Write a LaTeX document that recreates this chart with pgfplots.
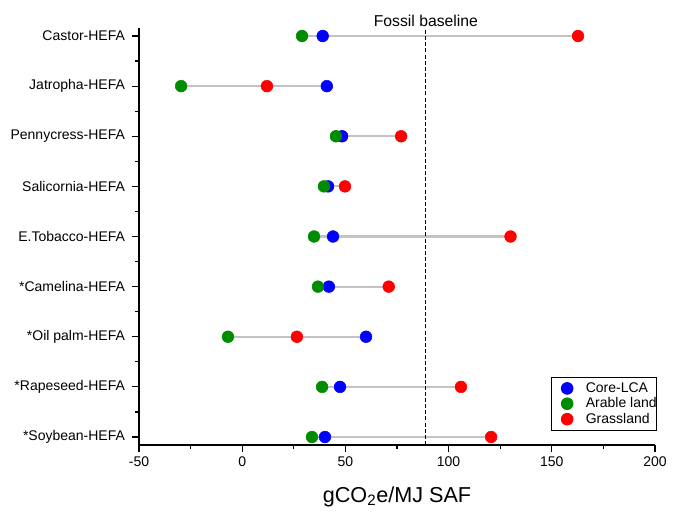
\documentclass[border=0pt]{standalone}
\usepackage{pgfplots}
\pgfplotsset{compat=1.18}
\usepackage{fontspec}
\setmainfont{Liberation Sans}
\definecolor{coreblue}{RGB}{0,0,255}
\definecolor{arablegreen}{RGB}{0,140,0}
\definecolor{grassred}{RGB}{255,0,0}
\definecolor{linkgray}{RGB}{195,195,195}
\begin{document}
\begin{tikzpicture}
  % picture frame: 673 x 512 px at 0.75pt per px, axis box lower left at (0,0)
  \path[use as bounding box] (-104.25pt,-50.25pt) rectangle (400.5pt,333.75pt);
  \begin{axis}[
      scale only axis,
      width=387pt, height=312.75pt,
      xmin=-50, xmax=200,
      ymin=-0.16, ymax=8.16,
      axis x line=bottom, axis y line=left,
      axis line style={-, line width=0.9pt},
      xtick={-50,0,50,100,150,200},
      minor x tick num=1,
      ytick={0,1,2,3,4,5,6,7,8},
      yticklabels={*Soybean-HEFA,*Rapeseed-HEFA,*Oil palm-HEFA,*Camelina-HEFA,E.Tobacco-HEFA,Salicornia-HEFA,Pennycress-HEFA,Jatropha-HEFA,Castor-HEFA},
      minor y tick num=1,
      tick align=outside,
      major tick length=5.5pt, minor tick length=3pt,
      every tick/.style={black, line width=0.9pt},
      /pgf/number format/assume math mode=true,
      tick label style={font=\fontsize{10.5}{12}\selectfont},
      yticklabel style={xshift=-1.5pt},
      xlabel={gCO\textsubscript{2}e/MJ SAF},
      xlabel style={font=\fontsize{16.2}{19}\selectfont, yshift=-8pt},
      clip=false,
      legend style={at={(1.004,0.0336)}, anchor=south east, draw=black, line width=0.6pt,
        font=\fontsize{10.5}{12}\selectfont, row sep=-1.5pt,
        inner xsep=0pt, inner ysep=2pt,
        nodes={inner xsep=0pt}},
      legend cell align=left,
      legend image code/.code={%
        \path[draw=none, fill=none] (0pt,0pt) -- (26pt,0pt);
        \path[#1, draw=none] plot coordinates {(12pt,0pt)};},
    ]
    % grey links between the lowest and highest value of each feedstock
    \addplot[linkgray, line width=1.6pt, forget plot] coordinates {(29,8) (162.7,8)};
    \addplot[linkgray, line width=1.6pt, forget plot] coordinates {(-29.6,7) (41,7)};
    \addplot[linkgray, line width=1.6pt, forget plot] coordinates {(45.4,6) (77,6)};
    \addplot[linkgray, line width=1.6pt, forget plot] coordinates {(39.6,5) (49.8,5)};
    \addplot[linkgray, line width=1.6pt, forget plot] coordinates {(34.8,4) (130,4)};
    \addplot[linkgray, line width=1.6pt, forget plot] coordinates {(36.7,3) (71,3)};
    \addplot[linkgray, line width=1.6pt, forget plot] coordinates {(-6.9,2) (60,2)};
    \addplot[linkgray, line width=1.6pt, forget plot] coordinates {(38.7,1) (106,1)};
    \addplot[linkgray, line width=1.6pt, forget plot] coordinates {(33.8,0) (120.6,0)};
    % fossil baseline
    \addplot[black, line width=0.8pt, dash pattern=on 3pt off 1.6pt, forget plot]
      coordinates {(89,-0.16) (89,8.16)};
    \node[anchor=south, font=\fontsize{11.8}{14}\selectfont, inner sep=1pt]
      at (axis cs:89,8.16) {Fossil baseline};
    % Core-LCA
    \addplot[only marks, mark=*, mark size=4.4pt, color=coreblue,
      mark options={draw=coreblue, fill=coreblue}] coordinates {
      (39,8) (41,7) (48.4,6) (41.6,5) (44,4) (42,3) (60,2) (47.4,1) (40.1,0)};
    \addlegendentry{Core-LCA}
    % Arable land
    \addplot[only marks, mark=*, mark size=4.4pt, color=arablegreen,
      mark options={draw=arablegreen, fill=arablegreen}] coordinates {
      (29,8) (-29.6,7) (45.4,6) (39.6,5) (34.8,4) (36.7,3) (-6.9,2) (38.7,1) (33.8,0)};
    \addlegendentry{Arable land}
    % Grassland
    \addplot[only marks, mark=*, mark size=4.4pt, color=grassred,
      mark options={draw=grassred, fill=grassred}] coordinates {
      (162.7,8) (12,7) (77,6) (49.8,5) (130,4) (71,3) (26.5,2) (106,1) (120.6,0)};
    \addlegendentry{Grassland}
  \end{axis}
\end{tikzpicture}
\end{document}
